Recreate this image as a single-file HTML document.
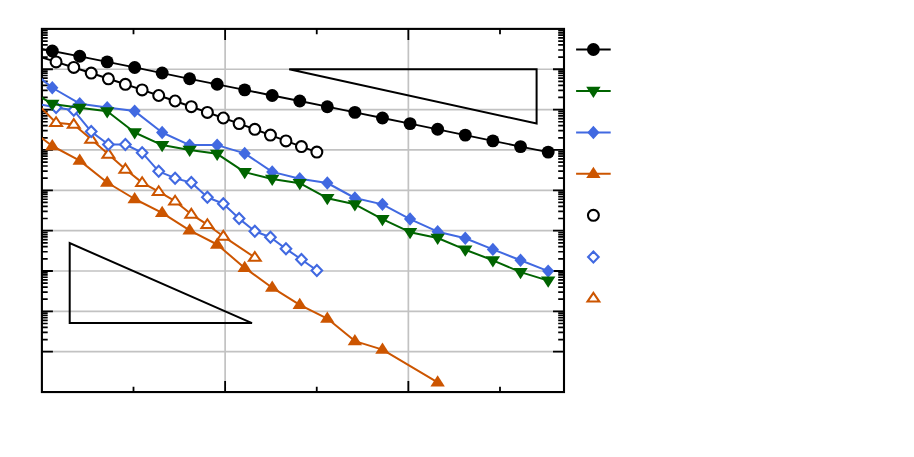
<!DOCTYPE html>
<html><head><meta charset="utf-8"><title>chart</title>
<style>html,body{margin:0;padding:0;background:#fff;font-family:"Liberation Sans",sans-serif}svg{display:block}</style>
</head><body>
<svg width="914" height="457" viewBox="0 0 914 457">
<rect width="914" height="457" fill="#fff"/>
<defs><clipPath id="c"><rect x="41.9" y="28.9" width="522.1" height="363.15000000000003"/></clipPath></defs>
<path d="M41.9 69.25H564.0M41.9 109.60H564.0M41.9 149.95H564.0M41.9 190.30H564.0M41.9 230.65H564.0M41.9 271.00H564.0M41.9 311.35H564.0M41.9 351.70H564.0M225.13 28.9V392.05M408.36 28.9V392.05" stroke="#c2c2c2" stroke-width="1.7" fill="none"/>
<path d="M41.9 69.25h11M564.0 69.25h-11M41.9 109.60h11M564.0 109.60h-11M41.9 149.95h11M564.0 149.95h-11M41.9 190.30h11M564.0 190.30h-11M41.9 230.65h11M564.0 230.65h-11M41.9 271.00h11M564.0 271.00h-11M41.9 311.35h11M564.0 311.35h-11M41.9 351.70h11M564.0 351.70h-11M133.5 28.9v5.4M133.5 392.05v-5.4M225.13 28.9v11M225.13 392.05v-11M316.75 28.9v5.4M316.75 392.05v-5.4M408.36 28.9v11M408.36 392.05v-11M500.0 28.9v5.4M500.0 392.05v-5.4" stroke="#000" stroke-width="1.8" fill="none"/>
<path d="M41.9 57.10h5.8M564.0 57.10h-5.8M41.9 50.00h5.8M564.0 50.00h-5.8M41.9 44.96h5.8M564.0 44.96h-5.8M41.9 41.05h5.8M564.0 41.05h-5.8M41.9 37.85h5.8M564.0 37.85h-5.8M41.9 35.15h5.8M564.0 35.15h-5.8M41.9 32.81h5.8M564.0 32.81h-5.8M41.9 30.75h5.8M564.0 30.75h-5.8M41.9 97.45h5.8M564.0 97.45h-5.8M41.9 90.35h5.8M564.0 90.35h-5.8M41.9 85.31h5.8M564.0 85.31h-5.8M41.9 81.40h5.8M564.0 81.40h-5.8M41.9 78.20h5.8M564.0 78.20h-5.8M41.9 75.50h5.8M564.0 75.50h-5.8M41.9 73.16h5.8M564.0 73.16h-5.8M41.9 71.10h5.8M564.0 71.10h-5.8M41.9 137.80h5.8M564.0 137.80h-5.8M41.9 130.70h5.8M564.0 130.70h-5.8M41.9 125.66h5.8M564.0 125.66h-5.8M41.9 121.75h5.8M564.0 121.75h-5.8M41.9 118.55h5.8M564.0 118.55h-5.8M41.9 115.85h5.8M564.0 115.85h-5.8M41.9 113.51h5.8M564.0 113.51h-5.8M41.9 111.45h5.8M564.0 111.45h-5.8M41.9 178.15h5.8M564.0 178.15h-5.8M41.9 171.05h5.8M564.0 171.05h-5.8M41.9 166.01h5.8M564.0 166.01h-5.8M41.9 162.10h5.8M564.0 162.10h-5.8M41.9 158.90h5.8M564.0 158.90h-5.8M41.9 156.20h5.8M564.0 156.20h-5.8M41.9 153.86h5.8M564.0 153.86h-5.8M41.9 151.80h5.8M564.0 151.80h-5.8M41.9 218.50h5.8M564.0 218.50h-5.8M41.9 211.40h5.8M564.0 211.40h-5.8M41.9 206.36h5.8M564.0 206.36h-5.8M41.9 202.45h5.8M564.0 202.45h-5.8M41.9 199.25h5.8M564.0 199.25h-5.8M41.9 196.55h5.8M564.0 196.55h-5.8M41.9 194.21h5.8M564.0 194.21h-5.8M41.9 192.15h5.8M564.0 192.15h-5.8M41.9 258.85h5.8M564.0 258.85h-5.8M41.9 251.75h5.8M564.0 251.75h-5.8M41.9 246.71h5.8M564.0 246.71h-5.8M41.9 242.80h5.8M564.0 242.80h-5.8M41.9 239.60h5.8M564.0 239.60h-5.8M41.9 236.90h5.8M564.0 236.90h-5.8M41.9 234.56h5.8M564.0 234.56h-5.8M41.9 232.50h5.8M564.0 232.50h-5.8M41.9 299.20h5.8M564.0 299.20h-5.8M41.9 292.10h5.8M564.0 292.10h-5.8M41.9 287.06h5.8M564.0 287.06h-5.8M41.9 283.15h5.8M564.0 283.15h-5.8M41.9 279.95h5.8M564.0 279.95h-5.8M41.9 277.25h5.8M564.0 277.25h-5.8M41.9 274.91h5.8M564.0 274.91h-5.8M41.9 272.85h5.8M564.0 272.85h-5.8M41.9 339.55h5.8M564.0 339.55h-5.8M41.9 332.45h5.8M564.0 332.45h-5.8M41.9 327.41h5.8M564.0 327.41h-5.8M41.9 323.50h5.8M564.0 323.50h-5.8M41.9 320.30h5.8M564.0 320.30h-5.8M41.9 317.60h5.8M564.0 317.60h-5.8M41.9 315.26h5.8M564.0 315.26h-5.8M41.9 313.20h5.8M564.0 313.20h-5.8" stroke="#000" stroke-width="1.7" fill="none"/>
<rect x="41.9" y="28.9" width="522.1" height="363.15000000000003" fill="none" stroke="#000" stroke-width="2.1"/>
<path d="M289.2 69.15H536.6V123.6Z" fill="none" stroke="#000" stroke-width="2.0" stroke-linejoin="miter"/>
<path d="M69.7 243.1V323.1H252Z" fill="none" stroke="#000" stroke-width="2.0" stroke-linejoin="miter"/>
<g clip-path="url(#c)">
<path d="M38.12 104.70L56.08 122.70L73.78 124.50L91.21 139.30L108.41 154.30L125.38 169.30L142.14 182.60L158.71 191.60L175.09 201.20L191.31 214.30L207.38 224.70L223.31 236.30L254.82 257.50" fill="none" stroke="#cc5500" stroke-width="2.0" stroke-linejoin="round"/>
<polygon points="56.08,117.30 62.03,126.05 50.13,126.05" fill="#fff" stroke="#cc5500" stroke-width="2.0" stroke-linejoin="miter"/>
<polygon points="73.78,119.10 79.73,127.85 67.83,127.85" fill="#fff" stroke="#cc5500" stroke-width="2.0" stroke-linejoin="miter"/>
<polygon points="91.21,133.90 97.16,142.65 85.26,142.65" fill="#fff" stroke="#cc5500" stroke-width="2.0" stroke-linejoin="miter"/>
<polygon points="108.41,148.90 114.36,157.65 102.46,157.65" fill="#fff" stroke="#cc5500" stroke-width="2.0" stroke-linejoin="miter"/>
<polygon points="125.38,163.90 131.33,172.65 119.43,172.65" fill="#fff" stroke="#cc5500" stroke-width="2.0" stroke-linejoin="miter"/>
<polygon points="142.14,177.20 148.09,185.95 136.19,185.95" fill="#fff" stroke="#cc5500" stroke-width="2.0" stroke-linejoin="miter"/>
<polygon points="158.71,186.20 164.66,194.95 152.76,194.95" fill="#fff" stroke="#cc5500" stroke-width="2.0" stroke-linejoin="miter"/>
<polygon points="175.09,195.80 181.04,204.55 169.14,204.55" fill="#fff" stroke="#cc5500" stroke-width="2.0" stroke-linejoin="miter"/>
<polygon points="191.31,208.90 197.26,217.65 185.36,217.65" fill="#fff" stroke="#cc5500" stroke-width="2.0" stroke-linejoin="miter"/>
<polygon points="207.38,219.30 213.33,228.05 201.43,228.05" fill="#fff" stroke="#cc5500" stroke-width="2.0" stroke-linejoin="miter"/>
<polygon points="223.31,230.90 229.26,239.65 217.36,239.65" fill="#fff" stroke="#cc5500" stroke-width="2.0" stroke-linejoin="miter"/>
<polygon points="254.82,252.10 260.77,260.85 248.87,260.85" fill="#fff" stroke="#cc5500" stroke-width="2.0" stroke-linejoin="miter"/>
<path d="M38.12 103.90L56.08 107.60L73.78 110.30L91.21 131.60L108.41 144.50L125.38 144.50L142.14 152.70L158.71 171.30L175.09 178.20L191.31 182.60L207.38 197.30L223.31 203.80L239.12 218.60L254.82 231.20L270.43 237.25L285.96 248.85L301.43 259.50L316.85 270.40" fill="none" stroke="#4169e1" stroke-width="2.0" stroke-linejoin="round"/>
<polygon points="56.08,102.10 61.38,107.60 56.08,113.10 50.78,107.60" fill="#fff" stroke="#4169e1" stroke-width="2.1" stroke-linejoin="miter"/>
<polygon points="73.78,104.80 79.08,110.30 73.78,115.80 68.48,110.30" fill="#fff" stroke="#4169e1" stroke-width="2.1" stroke-linejoin="miter"/>
<polygon points="91.21,126.10 96.51,131.60 91.21,137.10 85.91,131.60" fill="#fff" stroke="#4169e1" stroke-width="2.1" stroke-linejoin="miter"/>
<polygon points="108.41,139.00 113.71,144.50 108.41,150.00 103.11,144.50" fill="#fff" stroke="#4169e1" stroke-width="2.1" stroke-linejoin="miter"/>
<polygon points="125.38,139.00 130.68,144.50 125.38,150.00 120.08,144.50" fill="#fff" stroke="#4169e1" stroke-width="2.1" stroke-linejoin="miter"/>
<polygon points="142.14,147.20 147.44,152.70 142.14,158.20 136.84,152.70" fill="#fff" stroke="#4169e1" stroke-width="2.1" stroke-linejoin="miter"/>
<polygon points="158.71,165.80 164.01,171.30 158.71,176.80 153.41,171.30" fill="#fff" stroke="#4169e1" stroke-width="2.1" stroke-linejoin="miter"/>
<polygon points="175.09,172.70 180.39,178.20 175.09,183.70 169.79,178.20" fill="#fff" stroke="#4169e1" stroke-width="2.1" stroke-linejoin="miter"/>
<polygon points="191.31,177.10 196.61,182.60 191.31,188.10 186.01,182.60" fill="#fff" stroke="#4169e1" stroke-width="2.1" stroke-linejoin="miter"/>
<polygon points="207.38,191.80 212.68,197.30 207.38,202.80 202.08,197.30" fill="#fff" stroke="#4169e1" stroke-width="2.1" stroke-linejoin="miter"/>
<polygon points="223.31,198.30 228.61,203.80 223.31,209.30 218.01,203.80" fill="#fff" stroke="#4169e1" stroke-width="2.1" stroke-linejoin="miter"/>
<polygon points="239.12,213.10 244.42,218.60 239.12,224.10 233.82,218.60" fill="#fff" stroke="#4169e1" stroke-width="2.1" stroke-linejoin="miter"/>
<polygon points="254.82,225.70 260.12,231.20 254.82,236.70 249.52,231.20" fill="#fff" stroke="#4169e1" stroke-width="2.1" stroke-linejoin="miter"/>
<polygon points="270.43,231.75 275.73,237.25 270.43,242.75 265.13,237.25" fill="#fff" stroke="#4169e1" stroke-width="2.1" stroke-linejoin="miter"/>
<polygon points="285.96,243.35 291.26,248.85 285.96,254.35 280.66,248.85" fill="#fff" stroke="#4169e1" stroke-width="2.1" stroke-linejoin="miter"/>
<polygon points="301.43,254.00 306.73,259.50 301.43,265.00 296.13,259.50" fill="#fff" stroke="#4169e1" stroke-width="2.1" stroke-linejoin="miter"/>
<polygon points="316.85,264.90 322.15,270.40 316.85,275.90 311.55,270.40" fill="#fff" stroke="#4169e1" stroke-width="2.1" stroke-linejoin="miter"/>
<path d="M38.12 56.30L56.08 61.90L73.78 67.45L91.21 73.05L108.41 78.80L125.38 84.30L142.14 89.90L158.71 95.50L175.09 101.00L191.31 106.70L207.38 112.40L223.31 118.00L239.12 123.60L254.82 129.30L270.43 135.10L285.96 140.90L301.43 146.60L316.85 152.10" fill="none" stroke="#000" stroke-width="2.0" stroke-linejoin="round"/>
<circle cx="56.08" cy="61.90" r="5.45" fill="#fff" stroke="#000" stroke-width="2.1"/>
<circle cx="73.78" cy="67.45" r="5.45" fill="#fff" stroke="#000" stroke-width="2.1"/>
<circle cx="91.21" cy="73.05" r="5.45" fill="#fff" stroke="#000" stroke-width="2.1"/>
<circle cx="108.41" cy="78.80" r="5.45" fill="#fff" stroke="#000" stroke-width="2.1"/>
<circle cx="125.38" cy="84.30" r="5.45" fill="#fff" stroke="#000" stroke-width="2.1"/>
<circle cx="142.14" cy="89.90" r="5.45" fill="#fff" stroke="#000" stroke-width="2.1"/>
<circle cx="158.71" cy="95.50" r="5.45" fill="#fff" stroke="#000" stroke-width="2.1"/>
<circle cx="175.09" cy="101.00" r="5.45" fill="#fff" stroke="#000" stroke-width="2.1"/>
<circle cx="191.31" cy="106.70" r="5.45" fill="#fff" stroke="#000" stroke-width="2.1"/>
<circle cx="207.38" cy="112.40" r="5.45" fill="#fff" stroke="#000" stroke-width="2.1"/>
<circle cx="223.31" cy="118.00" r="5.45" fill="#fff" stroke="#000" stroke-width="2.1"/>
<circle cx="239.12" cy="123.60" r="5.45" fill="#fff" stroke="#000" stroke-width="2.1"/>
<circle cx="254.82" cy="129.30" r="5.45" fill="#fff" stroke="#000" stroke-width="2.1"/>
<circle cx="270.43" cy="135.10" r="5.45" fill="#fff" stroke="#000" stroke-width="2.1"/>
<circle cx="285.96" cy="140.90" r="5.45" fill="#fff" stroke="#000" stroke-width="2.1"/>
<circle cx="301.43" cy="146.60" r="5.45" fill="#fff" stroke="#000" stroke-width="2.1"/>
<circle cx="316.85" cy="152.10" r="5.45" fill="#fff" stroke="#000" stroke-width="2.1"/>
<path d="M24.85 125.40L52.29 146.00L79.74 160.60L107.20 182.50L134.67 199.00L162.15 212.90L189.65 230.40L217.16 244.50L244.68 267.90L272.21 287.70L299.75 304.80L327.31 318.60L354.88 341.10L382.45 349.60L437.65 382.30" fill="none" stroke="#cc5500" stroke-width="2.0" stroke-linejoin="round"/>
<polygon points="52.29,138.90 59.49,150.15 45.09,150.15" fill="#cc5500"/>
<polygon points="79.74,153.50 86.94,164.75 72.54,164.75" fill="#cc5500"/>
<polygon points="107.20,175.40 114.40,186.65 100.00,186.65" fill="#cc5500"/>
<polygon points="134.67,191.90 141.87,203.15 127.47,203.15" fill="#cc5500"/>
<polygon points="162.15,205.80 169.35,217.05 154.95,217.05" fill="#cc5500"/>
<polygon points="189.65,223.30 196.85,234.55 182.45,234.55" fill="#cc5500"/>
<polygon points="217.16,237.40 224.36,248.65 209.96,248.65" fill="#cc5500"/>
<polygon points="244.68,260.80 251.88,272.05 237.48,272.05" fill="#cc5500"/>
<polygon points="272.21,280.60 279.41,291.85 265.01,291.85" fill="#cc5500"/>
<polygon points="299.75,297.70 306.95,308.95 292.55,308.95" fill="#cc5500"/>
<polygon points="327.31,311.50 334.51,322.75 320.11,322.75" fill="#cc5500"/>
<polygon points="354.88,334.00 362.08,345.25 347.68,345.25" fill="#cc5500"/>
<polygon points="382.45,342.50 389.65,353.75 375.25,353.75" fill="#cc5500"/>
<polygon points="437.65,375.20 444.85,386.45 430.45,386.45" fill="#cc5500"/>
<path d="M24.85 65.50L52.29 87.75L79.74 103.70L107.20 107.60L134.67 111.10L162.15 132.50L189.65 145.10L217.16 145.10L244.68 153.40L272.21 171.90L299.75 178.70L327.31 183.00L354.88 198.00L382.45 204.35L410.05 219.05L437.65 231.70L465.27 238.20L492.89 249.40L520.53 260.20L548.18 271.10" fill="none" stroke="#4169e1" stroke-width="2.0" stroke-linejoin="round"/>
<polygon points="52.29,81.05 58.39,87.75 52.29,94.45 46.19,87.75" fill="#4169e1"/>
<polygon points="79.74,97.00 85.84,103.70 79.74,110.40 73.64,103.70" fill="#4169e1"/>
<polygon points="107.20,100.90 113.30,107.60 107.20,114.30 101.10,107.60" fill="#4169e1"/>
<polygon points="134.67,104.40 140.77,111.10 134.67,117.80 128.57,111.10" fill="#4169e1"/>
<polygon points="162.15,125.80 168.25,132.50 162.15,139.20 156.05,132.50" fill="#4169e1"/>
<polygon points="189.65,138.40 195.75,145.10 189.65,151.80 183.55,145.10" fill="#4169e1"/>
<polygon points="217.16,138.40 223.26,145.10 217.16,151.80 211.06,145.10" fill="#4169e1"/>
<polygon points="244.68,146.70 250.78,153.40 244.68,160.10 238.58,153.40" fill="#4169e1"/>
<polygon points="272.21,165.20 278.31,171.90 272.21,178.60 266.11,171.90" fill="#4169e1"/>
<polygon points="299.75,172.00 305.85,178.70 299.75,185.40 293.65,178.70" fill="#4169e1"/>
<polygon points="327.31,176.30 333.41,183.00 327.31,189.70 321.21,183.00" fill="#4169e1"/>
<polygon points="354.88,191.30 360.98,198.00 354.88,204.70 348.78,198.00" fill="#4169e1"/>
<polygon points="382.45,197.65 388.55,204.35 382.45,211.05 376.35,204.35" fill="#4169e1"/>
<polygon points="410.05,212.35 416.15,219.05 410.05,225.75 403.95,219.05" fill="#4169e1"/>
<polygon points="437.65,225.00 443.75,231.70 437.65,238.40 431.55,231.70" fill="#4169e1"/>
<polygon points="465.27,231.50 471.37,238.20 465.27,244.90 459.17,238.20" fill="#4169e1"/>
<polygon points="492.89,242.70 498.99,249.40 492.89,256.10 486.79,249.40" fill="#4169e1"/>
<polygon points="520.53,253.50 526.63,260.20 520.53,266.90 514.43,260.20" fill="#4169e1"/>
<polygon points="548.18,264.40 554.28,271.10 548.18,277.80 542.08,271.10" fill="#4169e1"/>
<path d="M24.85 87.40L52.29 104.00L79.74 107.80L107.20 111.30L134.67 132.50L162.15 145.05L189.65 150.00L217.16 153.80L244.68 172.10L272.21 179.00L299.75 183.20L327.31 198.20L354.88 204.30L382.45 219.20L410.05 232.20L437.65 238.00L465.27 249.70L492.89 260.30L520.53 272.10L548.18 280.60" fill="none" stroke="#006400" stroke-width="2.0" stroke-linejoin="round"/>
<polygon points="52.29,111.10 59.49,99.85 45.09,99.85" fill="#006400"/>
<polygon points="79.74,114.90 86.94,103.65 72.54,103.65" fill="#006400"/>
<polygon points="107.20,118.40 114.40,107.15 100.00,107.15" fill="#006400"/>
<polygon points="134.67,139.60 141.87,128.35 127.47,128.35" fill="#006400"/>
<polygon points="162.15,152.15 169.35,140.90 154.95,140.90" fill="#006400"/>
<polygon points="189.65,157.10 196.85,145.85 182.45,145.85" fill="#006400"/>
<polygon points="217.16,160.90 224.36,149.65 209.96,149.65" fill="#006400"/>
<polygon points="244.68,179.20 251.88,167.95 237.48,167.95" fill="#006400"/>
<polygon points="272.21,186.10 279.41,174.85 265.01,174.85" fill="#006400"/>
<polygon points="299.75,190.30 306.95,179.05 292.55,179.05" fill="#006400"/>
<polygon points="327.31,205.30 334.51,194.05 320.11,194.05" fill="#006400"/>
<polygon points="354.88,211.40 362.08,200.15 347.68,200.15" fill="#006400"/>
<polygon points="382.45,226.30 389.65,215.05 375.25,215.05" fill="#006400"/>
<polygon points="410.05,239.30 417.25,228.05 402.85,228.05" fill="#006400"/>
<polygon points="437.65,245.10 444.85,233.85 430.45,233.85" fill="#006400"/>
<polygon points="465.27,256.80 472.47,245.55 458.07,245.55" fill="#006400"/>
<polygon points="492.89,267.40 500.09,256.15 485.69,256.15" fill="#006400"/>
<polygon points="520.53,279.20 527.73,267.95 513.33,267.95" fill="#006400"/>
<polygon points="548.18,287.70 555.38,276.45 540.98,276.45" fill="#006400"/>
<path d="M24.85 45.40L52.29 51.00L79.74 56.30L107.20 61.90L134.67 67.45L162.15 73.05L189.65 78.80L217.16 84.30L244.68 89.90L272.21 95.50L299.75 101.00L327.31 106.70L354.88 112.40L382.45 118.00L410.05 123.60L437.65 129.30L465.27 135.10L492.89 140.90L520.53 146.60L548.18 152.10" fill="none" stroke="#000" stroke-width="1.85" stroke-linejoin="round"/>
<circle cx="52.29" cy="51.00" r="6.45" fill="#000"/>
<circle cx="79.74" cy="56.30" r="6.45" fill="#000"/>
<circle cx="107.20" cy="61.90" r="6.45" fill="#000"/>
<circle cx="134.67" cy="67.45" r="6.45" fill="#000"/>
<circle cx="162.15" cy="73.05" r="6.45" fill="#000"/>
<circle cx="189.65" cy="78.80" r="6.45" fill="#000"/>
<circle cx="217.16" cy="84.30" r="6.45" fill="#000"/>
<circle cx="244.68" cy="89.90" r="6.45" fill="#000"/>
<circle cx="272.21" cy="95.50" r="6.45" fill="#000"/>
<circle cx="299.75" cy="101.00" r="6.45" fill="#000"/>
<circle cx="327.31" cy="106.70" r="6.45" fill="#000"/>
<circle cx="354.88" cy="112.40" r="6.45" fill="#000"/>
<circle cx="382.45" cy="118.00" r="6.45" fill="#000"/>
<circle cx="410.05" cy="123.60" r="6.45" fill="#000"/>
<circle cx="437.65" cy="129.30" r="6.45" fill="#000"/>
<circle cx="465.27" cy="135.10" r="6.45" fill="#000"/>
<circle cx="492.89" cy="140.90" r="6.45" fill="#000"/>
<circle cx="520.53" cy="146.60" r="6.45" fill="#000"/>
<circle cx="548.18" cy="152.10" r="6.45" fill="#000"/>
</g>
<path d="M576.1 49.50H610.7" stroke="#000" stroke-width="1.85" fill="none"/>
<circle cx="593.40" cy="49.50" r="6.45" fill="#000"/>
<path d="M576.1 90.90H610.7" stroke="#006400" stroke-width="2.0" fill="none"/>
<polygon points="593.40,98.00 600.60,86.75 586.20,86.75" fill="#006400"/>
<path d="M576.1 132.45H610.7" stroke="#4169e1" stroke-width="2.0" fill="none"/>
<polygon points="593.40,125.75 599.50,132.45 593.40,139.15 587.30,132.45" fill="#4169e1"/>
<path d="M576.1 173.85H610.7" stroke="#cc5500" stroke-width="2.0" fill="none"/>
<polygon points="593.40,166.75 600.60,178.00 586.20,178.00" fill="#cc5500"/>
<circle cx="593.40" cy="215.30" r="5.45" fill="#fff" stroke="#000" stroke-width="2.1"/>
<polygon points="593.40,251.50 598.70,257.00 593.40,262.50 588.10,257.00" fill="#fff" stroke="#4169e1" stroke-width="2.1" stroke-linejoin="miter"/>
<polygon points="593.40,292.85 599.35,301.60 587.45,301.60" fill="#fff" stroke="#cc5500" stroke-width="2.0" stroke-linejoin="miter"/>
</svg>
</body></html>
